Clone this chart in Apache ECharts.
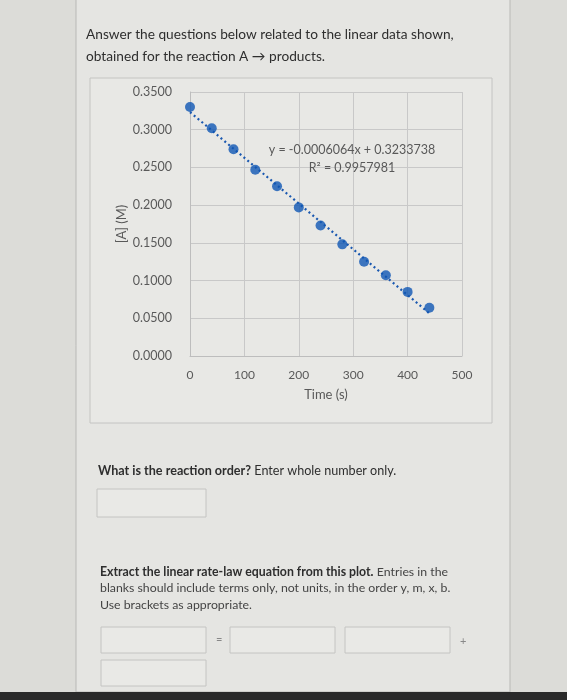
<!DOCTYPE html>
<html><head><meta charset="utf-8">
<script src="https://cdn.jsdelivr.net/npm/echarts@6/dist/echarts.min.js"></script>
<style>html,body{margin:0;padding:0;background:#dcdcd8;}#c{width:567px;height:700px;}</style>
</head><body><div id="c"></div>
<script>
// ---- data ----
const timeS = [0, 40, 80, 120, 160, 200, 240, 280, 320, 360, 400, 440];
const concA = [0.330, 0.302, 0.274, 0.247, 0.225, 0.197, 0.173, 0.148, 0.125, 0.107, 0.085, 0.064];
const xTickMin = 0, xTickMax = 500, xTickStep = 100;
const yTickMin = 0, yTickMax = 0.35, yTickStep = 0.05;
const trendSlope = -0.0006064;
const trendIntercept = 0.3233738;
const trendR2 = 0.9957981;
const xTitle = 'Time (s)';
const yTitle = '[A] (M)';

const points = timeS.map((t, i) => [t, concA[i]]);
const tx0 = timeS[0], tx1 = timeS[timeS.length - 1];
const trend = [[tx0, trendIntercept + trendSlope * tx0], [tx1, trendIntercept + trendSlope * tx1]];

const chart = echarts.init(document.getElementById('c'), null, {renderer: 'canvas'});
const FONT = 'Lato';
const txt = '#2e2e2e';
const axTxt = '#595959';
const boxStroke = '#c4c4c2';

function box(x, y, w, h) {
  return {type: 'rect', z: -50, silent: true, shape: {x: x, y: y, width: w, height: h},
    style: {fill: '#e9e9e6', stroke: boxStroke, lineWidth: 1}};
}

chart.setOption({
  backgroundColor: '#dcdcd8',
  animation: false,
  textStyle: {fontFamily: FONT},
  grid: {left: 190, top: 92, right: 105, bottom: 344, show: false},
  xAxis: {
    type: 'value', min: xTickMin, max: xTickMax, interval: xTickStep,
    name: xTitle, nameLocation: 'middle', nameGap: 32,
    nameTextStyle: {color: axTxt, fontSize: 13, fontFamily: FONT},
    axisLine: {show: true, lineStyle: {color: '#bdbdbd'}},
    axisTick: {show: false},
    axisLabel: {color: axTxt, fontSize: 12, margin: 13, fontFamily: FONT},
    splitLine: {show: true, lineStyle: {color: '#c8c8c8'}}
  },
  yAxis: {
    type: 'value', min: yTickMin, max: yTickMax, interval: yTickStep,
    name: yTitle, nameLocation: 'middle', nameGap: 62, nameRotate: 90,
    nameTextStyle: {color: axTxt, fontSize: 13, fontFamily: FONT},
    axisLine: {show: true, lineStyle: {color: '#bdbdbd'}},
    axisTick: {show: false},
    axisLabel: {color: axTxt, fontSize: 12.5, margin: 18, fontFamily: FONT,
      formatter: v => v.toFixed(4)},
    splitLine: {show: true, lineStyle: {color: '#c8c8c8'}}
  },
  series: [
    {
      type: 'line', data: trend, symbol: 'none', z: 3, silent: true,
      lineStyle: {color: '#1a58b0', width: 2.2, type: [2, 3]}
    },
    {
      type: 'scatter', data: points, symbol: 'circle', symbolSize: 10, z: 4,
      itemStyle: {color: '#0f56b4'}
    }
  ],
  graphic: {elements: [
    {type: 'rect', z: -100, silent: true, shape: {x: 76, y: -2, width: 434, height: 694},
      style: {fill: '#e5e5e2', stroke: '#b9b9b6', lineWidth: 1}},
    {type: 'rect', z: -90, silent: true, shape: {x: 0, y: 692, width: 567, height: 8},
      style: {fill: '#2a2a2a'}},
    {type: 'rect', z: -80, silent: true, shape: {x: 90, y: 78, width: 402, height: 345},
      style: {fill: '#e8e8e5', stroke: boxStroke, lineWidth: 1}},
    {type: 'text', z: 100, left: 86, top: 24, style: {text: 'Answer the questions below related to the linear data shown,\nobtained for the reaction A \u2192 products.',
      font: '13.7px Lato', fill: txt, lineHeight: 22}},
    {type: 'text', z: 100, x: 352, y: 150, style: {text: 'y = ' + trendSlope.toFixed(7) + 'x + ' + trendIntercept.toFixed(7), font: '12.5px Lato', fill: axTxt, align: 'center', verticalAlign: 'middle'}},
    {type: 'text', z: 100, x: 352, y: 168, style: {text: 'R\u00b2 = ' + trendR2.toFixed(7), font: '12.5px Lato', fill: axTxt, align: 'center', verticalAlign: 'middle'}},
    {type: 'text', z: 100, left: 98, top: 464, style: {
      text: '{b|What is the reaction order?} {n|Enter whole number only.}',
      rich: {b: {fontFamily: FONT, fontSize: 12.6, fontWeight: 'bold', fill: txt, color: txt},
             n: {fontFamily: FONT, fontSize: 12.6, fill: txt, color: txt}}}},
    box(97, 489, 109, 28),
    {type: 'text', z: 100, left: 100, top: 566, style: {
      text: '{b|Extract the linear rate-law equation from this plot.} {n|Entries in the}\n{n|blanks should include terms only, not units, in the order y, m, x, b.}\n{n|Use brackets as appropriate.}',
      rich: {b: {fontFamily: FONT, fontSize: 12.3, fontWeight: 'bold', fill: txt, color: txt, lineHeight: 16.5},
             n: {fontFamily: FONT, fontSize: 12.3, fill: '#444', color: '#444', lineHeight: 16.5}}}},
    box(101, 627, 105, 26),
    {type: 'text', z: 100, left: 216, top: 634, style: {text: '=', font: '11px Lato', fill: '#888'}},
    box(230, 627, 105, 26),
    box(345, 627, 105, 26),
    {type: 'text', z: 100, left: 460, top: 636, style: {text: '+', font: '11px Lato', fill: '#888'}},
    box(101, 660, 105, 26)
  ]}
});
</script></body></html>
